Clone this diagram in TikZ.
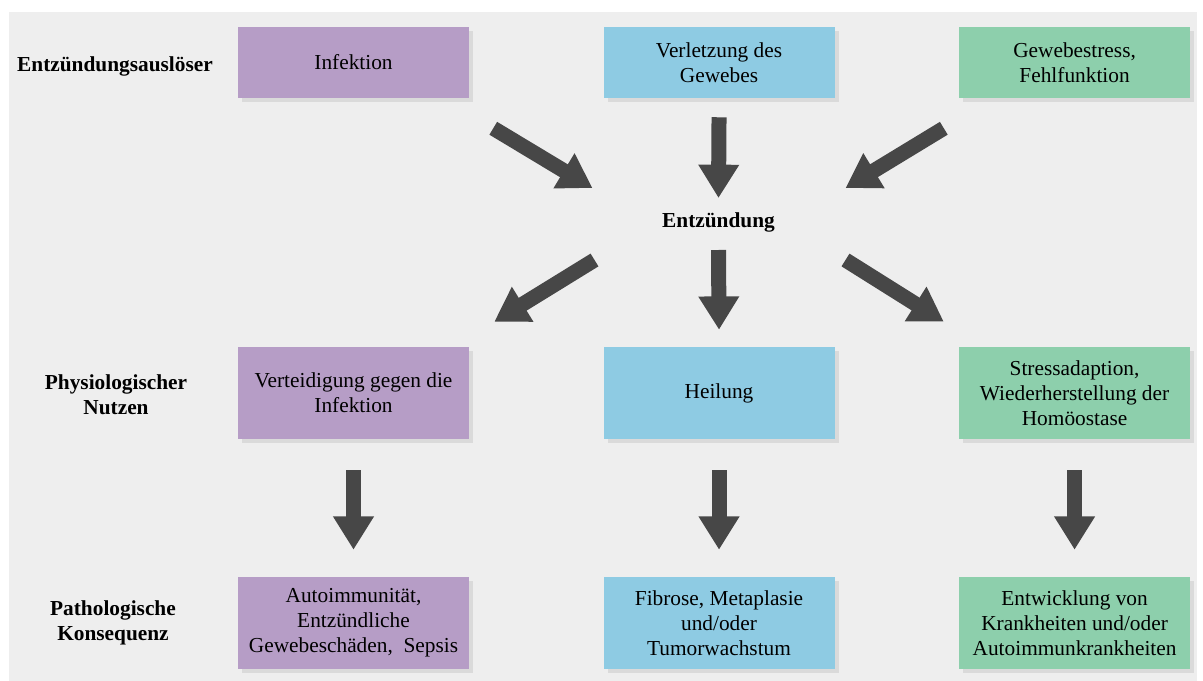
\documentclass[tikz,border=0pt]{standalone}
\usepackage{fontspec}
\setmainfont{Liberation Serif}
\usetikzlibrary{calc,positioning,shadows,arrows.meta}
\definecolor{grund}{HTML}{EEEEEE}
\definecolor{lila}{HTML}{B69DC6}
\definecolor{blau}{HTML}{8ECBE3}
\definecolor{gruen}{HTML}{8DCFAC}
\definecolor{pfeil}{HTML}{474747}
\tikzset{
  feld/.style={minimum width=173.25pt, minimum height=69pt, inner sep=2pt,
    align=center, font=\fontsize{16}{18.75}\selectfont,
    drop shadow={shadow xshift=3pt, shadow yshift=-3pt, opacity=0.18}},
  oben/.style={minimum height=53.25pt},
  zeile/.style={align=center, inner sep=0pt, font=\fontsize{16}{18.75}\selectfont\bfseries},
  fett/.style={draw=pfeil, line width=11.25pt, -{Triangle[width=29pt,length=25pt]}}
}
\begin{document}
\begin{tikzpicture}[x=0.75pt,y=-0.75pt]
   \useasboundingbox (0,0) rectangle (1203,681);
   \fill[grund] (9,12) rectangle (1197,681);

   \node[zeile] (z1) at (115,66) {Entzündungsauslöser};
   \node[zeile] (z2) at (116,395) {Physiologischer\\Nutzen};
   \node[zeile] (z3) at (113,623) {Pathologische\\Konsequenz};

   \node[feld, oben, fill=lila] (inf) at (353.5,62.5) {Infektion};
   \node[feld, oben, fill=blau, right=100.5pt of inf] (verl) {Verletzung des\\Gewebes};
   \node[feld, oben, fill=gruen, right=93pt of verl] (gew) {Gewebestress,\\Fehlfunktion};

   \node[zeile] (entz) at (718.5,222) {Entzündung};

   \node[feld, fill=lila] (vert) at (353.5,393) {Verteidigung gegen die\\Infektion};
   \node[feld, fill=blau, right=100.5pt of vert] (heil) {Heilung};
   \node[feld, fill=gruen, right=93pt of heil] (stress) {Stressadaption,\\Wiederherstellung der\\Homöostase};

   \node[feld, fill=lila] (auto) at (353.5,623) {Autoimmunität,\\Entzündliche\\Gewebeschäden,\ \ Sepsis};
   \node[feld, fill=blau, right=100.5pt of auto] (fib) {Fibrose, Metaplasie\\und/oder\\Tumorwachstum};
   \node[feld, fill=gruen, right=93pt of fib] (krank) {Entwicklung von\\Krankheiten und/oder\\Autoimmunkrankheiten};

   \draw[fett] ($(inf.south east)+(24,30)$) -- ($(entz.center)+(-126,-34)$);
   \draw[fett] ($(verl.south)+(0,19)$) -- ($(entz.center)+(0,-24)$);
   \draw[fett] ($(gew.south west)+(-15,30)$) -- ($(entz.center)+(127,-34)$);

   \draw[fett] ($(entz.center)+(-124,38)$) -- ($(vert.north east)+(25,-25)$);
   \draw[fett] ($(entz.center)+(0,28)$) -- ($(heil.north)+(0,-17)$);
   \draw[fett] ($(entz.center)+(127,38)$) -- ($(stress.north west)+(-15,-25)$);

   \draw[fett] ($(vert.south)+(0,31)$) -- ($(auto.north)+(0,-27)$);
   \draw[fett] ($(heil.south)+(0,31)$) -- ($(fib.north)+(0,-27)$);
   \draw[fett] ($(stress.south)+(0,31)$) -- ($(krank.north)+(0,-27)$);
\end{tikzpicture}
\end{document}
